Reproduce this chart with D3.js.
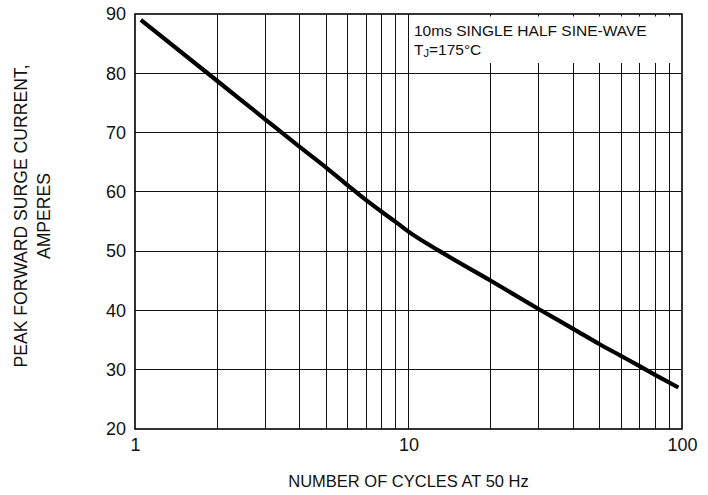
<!DOCTYPE html>
<html>
<head>
<meta charset="utf-8">
<script src="https://cdn.jsdelivr.net/npm/d3@7"></script>
<style>
  body { margin: 0; background: #fff; }
  svg { display: block; font-family: "Liberation Sans", Arial, sans-serif; }
</style>
</head>
<body>
<div id="wrapper"></div>
<script>
// surge current vs number of cycles
var cycles  = [1.05, 2, 3, 4, 5, 6, 7, 8, 9, 10, 13, 20, 30, 40, 50, 60, 70, 80, 97];
var amperes = [89.0, 78.7, 72.2, 67.6, 64.1, 61.1, 58.6, 56.6, 54.9, 53.3, 50.0, 45.0, 40.2, 36.9, 34.3, 32.3, 30.6, 29.1, 27.0];

var xTicks = [1, 10, 100];
var yTicks = [20, 30, 40, 50, 60, 70, 80, 90];
var xGrid = [2, 3, 4, 5, 6, 7, 8, 9, 10, 20, 30, 40, 50, 60, 70, 80, 90];

var W = 708, H = 495;
var mLeft = 135, mRight = 682, mTop = 14, mBottom = 429;

var x = d3.scaleLog().domain([1, 100]).range([mLeft, mRight]);
var y = d3.scaleLinear().domain([20, 90]).range([mBottom, mTop]);

var svg = d3.select('#wrapper').append('svg')
    .attr('width', W)
    .attr('height', H);

// grid
var grid = svg.append('g').attr('shape-rendering', 'crispEdges')
    .style('stroke', '#111').style('stroke-width', 1);

grid.selectAll('line.v').data(xGrid).enter().append('line')
    .attr('class', 'v')
    .attr('x1', function(d){ return x(d); })
    .attr('x2', function(d){ return x(d); })
    .attr('y1', mTop).attr('y2', mBottom);

grid.selectAll('line.h').data(yTicks.slice(1, -1)).enter().append('line')
    .attr('class', 'h')
    .attr('y1', function(d){ return y(d); })
    .attr('y2', function(d){ return y(d); })
    .attr('x1', mLeft).attr('x2', mRight);

// white note box over the grid
svg.append('rect')
    .attr('x', x(10) + 1).attr('y', 16.5)
    .attr('width', x(100) - x(10) - 2).attr('height', 46.5)
    .style('fill', '#fff');

var note = svg.append('g').style('font-size', '15.5px').style('fill', '#111');
note.append('text').attr('x', 414).attr('y', 36).text('10ms SINGLE HALF SINE-WAVE');
var tj = note.append('text').attr('x', 414).attr('y', 55);
tj.append('tspan').text('T');
tj.append('tspan').attr('dy', 2).style('font-size', '11px').text('J');
tj.append('tspan').attr('dy', -2).text('=175°C');

// frame
svg.append('rect')
    .attr('x', mLeft).attr('y', mTop)
    .attr('width', mRight - mLeft).attr('height', mBottom - mTop)
    .style('fill', 'none').style('stroke', '#000').style('stroke-width', 1.6);

// curve
var line = d3.line()
    .x(function(d){ return x(d[0]); })
    .y(function(d){ return y(d[1]); })
    .curve(d3.curveMonotoneX);

svg.append('path')
    .datum(d3.zip(cycles, amperes))
    .attr('d', line)
    .style('fill', 'none')
    .style('stroke', '#000')
    .style('stroke-width', 4.2)
    .style('stroke-linecap', 'butt')
    .style('stroke-linejoin', 'round');

// axes
var xAxis = d3.axisBottom(x).tickValues(xTicks).tickSize(0).tickPadding(0)
    .tickFormat(d3.format('d'));
var yAxis = d3.axisLeft(y).tickValues(yTicks).tickSize(0).tickPadding(9);

var gx = svg.append('g').attr('transform', 'translate(0,' + mBottom + ')').call(xAxis);
gx.select('.domain').remove();
gx.selectAll('text').attr('dy', null).attr('y', 22)
    .style('font-size', '18px').style('fill', '#111')
    .style('font-family', '"Liberation Sans", Arial, sans-serif');

var gy = svg.append('g').attr('transform', 'translate(' + mLeft + ',0)').call(yAxis);
gy.select('.domain').remove();
gy.selectAll('text').style('font-size', '18px').style('fill', '#111')
    .style('font-family', '"Liberation Sans", Arial, sans-serif');

// titles
svg.append('text')
    .attr('x', (mLeft + mRight) / 2).attr('y', 487)
    .attr('text-anchor', 'middle')
    .style('font-size', '16.5px').style('fill', '#111')
    .text('NUMBER OF CYCLES AT 50 Hz');

var yt = svg.append('text')
    .attr('transform', 'translate(27,216) rotate(-90)')
    .attr('text-anchor', 'middle')
    .style('font-size', '17.6px').style('fill', '#111');
yt.append('tspan').attr('x', 0).attr('y', 0).text('PEAK FORWARD SURGE CURRENT,');
yt.append('tspan').attr('x', 0).attr('y', 23).text('AMPERES');
</script>
</body>
</html>
